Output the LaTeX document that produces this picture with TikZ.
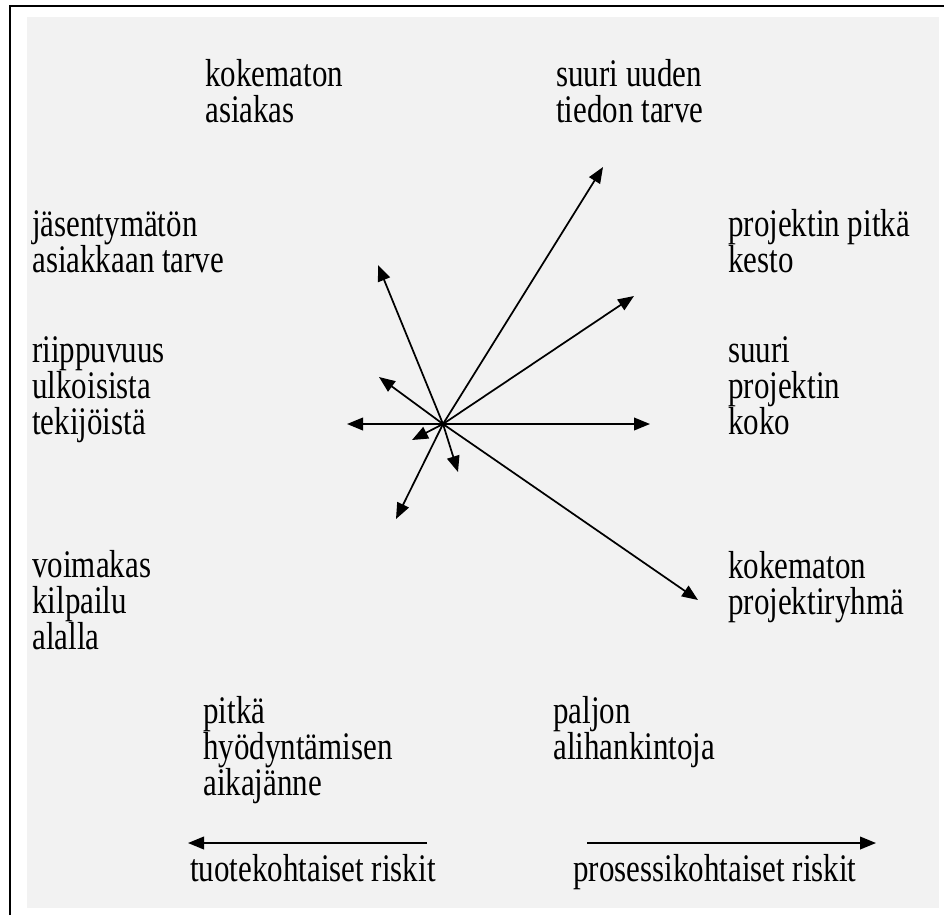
\documentclass[tikz,border=0pt]{standalone}
\usepackage{fontspec}
\setmainfont{Liberation Serif}
\usetikzlibrary{arrows.meta}

\newcommand{\lblfont}{\fontsize{23.25}{21.2}\selectfont\lineskiplimit=-20pt\relax}

\begin{document}
\begin{tikzpicture}[x=0.75pt, y=-0.75pt]

\tikzstyle{arrow} = [-{Triangle[length=12pt, width=9.5pt]}, line width=1.3pt];
\tikzstyle{txt} = [anchor=base west, inner sep=0pt, align=left, yscale=1.26, font=\lblfont];

\useasboundingbox (0,0) rectangle (944,915);
\fill[white] (0,0) rectangle (944,915);
\fill[black!5] (27,17) rectangle (939,908);
\draw[line width=1.5pt] (10,915) -- (10,6) -- (944,6);

% labels round the star (at the baseline of the last line)
\node(asiakas) [txt] at (205,122) {kokematon\\asiakas};
\node(tieto) [txt] at (556,122) {suuri uuden\\tiedon tarve};
\node(tarve) [txt] at (32,272) {jäsentymätön\\asiakkaan tarve};
\node(kesto) [txt] at (728,272) {projektin pitkä\\kesto};
\node(ulkoiset) [txt] at (32,434) {riippuvuus\\ulkoisista\\tekijöistä};
\node(koko) [txt] at (728,434) {suuri\\projektin\\koko};
\node(kilpailu) [txt] at (32,649) {voimakas\\kilpailu\\alalla};
\node(ryhma) [txt] at (728,614) {kokematon\\projektiryhmä};
\node(aika) [txt] at (203,795) {pitkä\\hyödyntämisen\\aikajänne};
\node(ali) [txt] at (553,759) {paljon\\alihankintoja};

\node(tuote) [txt] at (190,881) {tuotekohtaiset riskit};
\node(prosessi) [txt] at (573,881) {prosessikohtaiset riskit};

% star of arrows
\coordinate(c) at (443,424);
\coordinate(t1) at (378,265);
\coordinate(t2) at (379,377);
\coordinate(t3) at (347,424);
\coordinate(t4) at (412,440);
\coordinate(t5) at (458,472);
\coordinate(t6) at (396,519);
\coordinate(t7) at (603,167);
\coordinate(t8) at (634,296);
\coordinate(t9) at (650,424);
\coordinate(t10) at (698,600);

\foreach \t in {t1,t2,t3,t4,t5,t6,t7,t8,t9,t10}
  \draw [arrow] (c) -- (\t);

% bottom arrows
\coordinate(l0) at (427,843);
\coordinate(l1) at (188,843);
\coordinate(r0) at (587,843);
\coordinate(r1) at (876,843);
\draw [arrow] (l0) -- (l1);
\draw [arrow] (r0) -- (r1);

\end{tikzpicture}
\end{document}
